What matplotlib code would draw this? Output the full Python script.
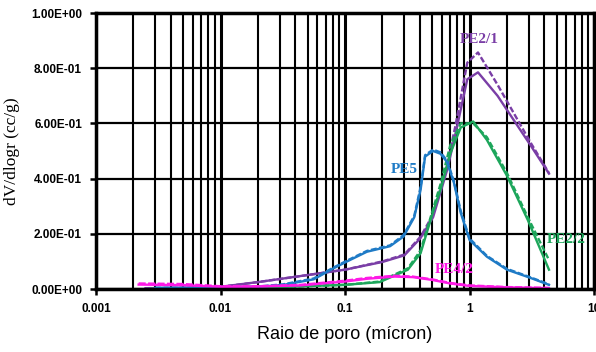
import matplotlib
matplotlib.use("Agg")
import matplotlib.pyplot as plt
from matplotlib.ticker import LogLocator, FixedLocator, NullFormatter

# ---- data ----
purple_x = [0.0025, 0.005, 0.01, 0.02, 0.044, 0.1, 0.2, 0.3, 0.405, 0.51, 0.66, 0.77, 0.96, 1.17, 1.68, 3.1, 4.35]
purple_a = [0.003, 0.004, 0.008, 0.025, 0.047, 0.07, 0.10, 0.125, 0.19, 0.27, 0.45, 0.59, 0.82, 0.857, 0.74, 0.53, 0.42]
purple_b = [0.003, 0.004, 0.008, 0.025, 0.047, 0.07, 0.098, 0.122, 0.185, 0.26, 0.43, 0.56, 0.76, 0.785, 0.70, 0.52, 0.418]

green_x = [0.0027, 0.01, 0.03, 0.1, 0.19, 0.32, 0.405, 0.51, 0.585, 0.7, 0.85, 1.07, 1.38, 2.0, 2.94, 4.35]
green_a = [0.0, 0.003, 0.007, 0.015, 0.025, 0.07, 0.13, 0.28, 0.36, 0.49, 0.585, 0.607, 0.54, 0.41, 0.25, 0.07]
green_b = [0.0, 0.003, 0.007, 0.015, 0.027, 0.075, 0.14, 0.29, 0.38, 0.52, 0.60, 0.60, 0.55, 0.42, 0.26, 0.105]

blue_x = [0.003, 0.01, 0.02, 0.032, 0.056, 0.081, 0.104, 0.15, 0.23, 0.295, 0.36, 0.405, 0.44, 0.51,
          0.585, 0.66, 0.75, 0.85, 1.0, 1.38, 2.0, 3.1, 4.35]
blue_a = [0.004, 0.005, 0.008, 0.015, 0.035, 0.075, 0.10, 0.135, 0.155, 0.19, 0.26, 0.36, 0.48, 0.50,
          0.49, 0.46, 0.385, 0.276, 0.178, 0.117, 0.07, 0.04, 0.015]
blue_b = [0.004, 0.005, 0.009, 0.017, 0.038, 0.078, 0.103, 0.138, 0.158, 0.195, 0.265, 0.37, 0.485, 0.505,
          0.495, 0.465, 0.39, 0.283, 0.183, 0.12, 0.073, 0.042, 0.017]

pink_x = [0.0022, 0.005, 0.01, 0.02, 0.044, 0.1, 0.15, 0.25, 0.35, 0.5, 0.7, 1.0, 2.0, 4.35]
pink_a = [0.02, 0.018, 0.01, 0.01, 0.015, 0.03, 0.04, 0.048, 0.045, 0.035, 0.022, 0.013, 0.007, 0.004]
pink_b = [0.016, 0.014, 0.008, 0.009, 0.013, 0.027, 0.037, 0.045, 0.043, 0.033, 0.02, 0.011, 0.006, 0.003]

x_ticks = [0.001, 0.01, 0.1, 1, 10]
x_tick_labels = ["0.001", "0.01", "0.1", "1", "10"]
y_ticks = [0.0, 0.2, 0.4, 0.6, 0.8, 1.0]
y_tick_labels = ["0.00E+00", "2.00E-01", "4.00E-01", "6.00E-01", "8.00E-01", "1.00E+00"]

labels = ["PE2/1", "PE5", "PE2/2", "PE4/2"]
c_purple, c_blue, c_green, c_pink = "#7A3EA6", "#1F7BC6", "#1DA65B", "#FF19E6"

fig = plt.figure(figsize=(5.96, 3.52), dpi=100)
ax = fig.add_axes([96/596, 1-289/352, (594-96)/596, (289-13)/352])
ax.set_xscale("log")
ax.set_xlim(0.001, 10)
ax.set_ylim(0, 1)

# grid
ax.xaxis.set_major_locator(FixedLocator(x_ticks))
ax.xaxis.set_minor_locator(LogLocator(base=10, subs=range(2, 10)))
ax.xaxis.set_minor_formatter(NullFormatter())
ax.grid(True, which="major", axis="x", color="black", lw=2.2)
ax.grid(True, which="minor", axis="x", color="black", lw=1.5)
ax.set_yticks(y_ticks)
ax.grid(True, which="major", axis="y", color="black", lw=1.6)
ax.set_axisbelow(True)
for s in ax.spines.values():
    s.set_linewidth(2.5)

ax.set_xticklabels(x_tick_labels, fontsize=8.5, fontweight="bold", family="Liberation Sans")
ax.set_yticklabels(y_tick_labels, fontsize=8.5, fontweight="bold", family="Liberation Sans")
ax.tick_params(axis="both", which="major", direction="out", length=4, width=1.8, pad=6)
ax.tick_params(axis="x", which="minor", length=0)

lw = 1.7
ax.plot(purple_x, purple_a, color=c_purple, lw=lw, ls=(0, (2.5, 1)))
ax.plot(purple_x, purple_b, color=c_purple, lw=lw)
ax.plot(green_x, green_a, color=c_green, lw=lw)
ax.plot(green_x, green_b, color=c_green, lw=lw, ls=(0, (2.5, 1)))
ax.plot(blue_x, blue_a, color=c_blue, lw=lw)
ax.plot(blue_x, blue_b, color=c_blue, lw=lw, ls=(0, (2.5, 1)))
ax.plot(pink_x, pink_a, color=c_pink, lw=lw, ls=(0, (3, 1)))
ax.plot(pink_x, pink_b, color=c_pink, lw=lw)

tf = dict(family="Liberation Serif", fontweight="bold", fontsize=11, ha="center", va="center")
ax.text(1.2, 0.905, labels[0], color=c_purple, **tf)
ax.text(0.30, 0.433, labels[1], color=c_blue, **tf)
ax.text(6.0, 0.178, labels[2], color=c_green, **tf)
ax.text(0.76, 0.069, labels[3], color=c_pink, **tf)

ax.set_xlabel("Raio de poro (mícron)", family="Liberation Sans", fontsize=13, labelpad=8)
ax.set_ylabel("dV/dlogr (cc/g)", family="Liberation Serif", fontsize=12.5, labelpad=8)

fig.savefig("out.png", dpi=100)
